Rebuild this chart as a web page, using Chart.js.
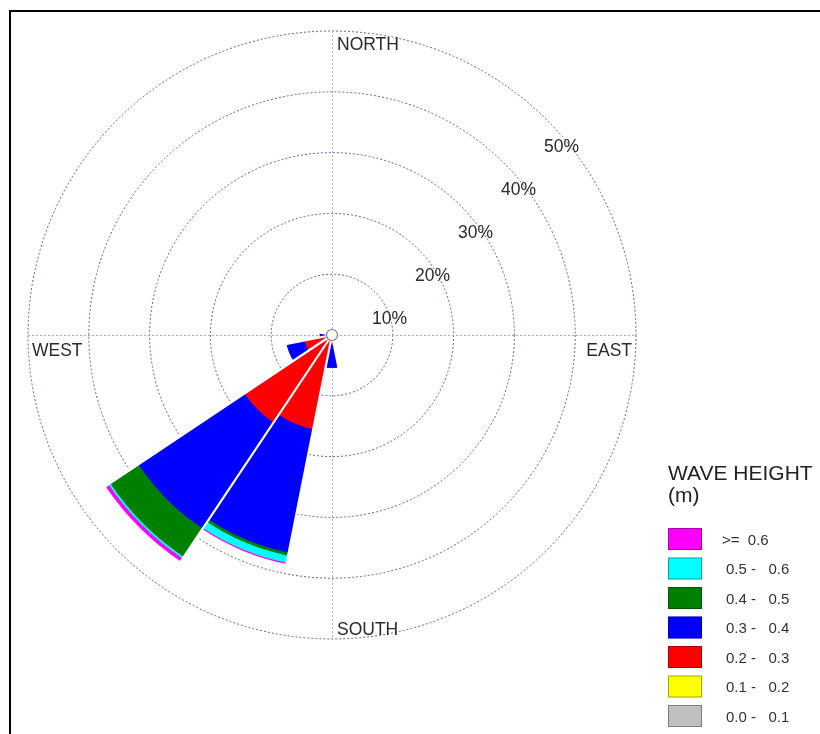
<!DOCTYPE html>
<html>
<head>
<meta charset="utf-8">
<script src="https://cdn.jsdelivr.net/npm/chart.js@4.4.1/dist/chart.umd.min.js"></script>
<style>
  html, body { margin: 0; padding: 0; background: #fff; }
  #wrap { position: relative; width: 820px; height: 734px; overflow: hidden; }
  #frame { position: absolute; left: 9px; top: 10px; width: 900px; height: 900px;
           border-left: 2px solid #000; border-top: 2px solid #000; }
  canvas { position: absolute; left: 0; top: 0; }
</style>
</head>
<body>
<div id="wrap">
  <div id="frame"></div>
  <canvas id="rose" width="820" height="734"></canvas>
</div>
<script>
// 16 compass sectors, clockwise from north
const directions = ['N', 'NNE', 'NE', 'ENE', 'E', 'ESE', 'SE', 'SSE',
                    'S', 'SSW', 'SW', 'WSW', 'W', 'WNW', 'NW', 'NNW'];

// Frequency (% of records) for each wave-height class, per sector
const h00_01 = [0, 0, 0, 0, 0, 0, 0, 0, 0,   0,    0,    0,   0,   0, 0, 0];
const h01_02 = [0, 0, 0, 0, 0, 0, 0, 0, 0,   0,    0,    0,   0,   0, 0, 0];
const h02_03 = [0, 0, 0, 0, 0, 0, 0, 0, 1.6, 15.8, 17.3, 4.6, 0.6, 0, 0, 0];
const h03_04 = [0, 0, 0, 0, 0, 0, 0, 0, 3.8, 20.7, 21.0, 3.0, 1.4, 0, 0, 0];
const h04_05 = [0, 0, 0, 0, 0, 0, 0, 0, 0,   0.5,  5.6,  0,   0,   0, 0, 0];
const h05_06 = [0, 0, 0, 0, 0, 0, 0, 0, 0,   1.2,  0.3,  0,   0,   0, 0, 0];
const h06_up = [0, 0, 0, 0, 0, 0, 0, 0, 0,   0.2,  0.6,  0,   0,   0, 0, 0];

const classLabels = ['0.0 -   0.1', '0.1 -   0.2', '0.2 -   0.3', '0.3 -   0.4',
                     '0.4 -   0.5', '0.5 -   0.6', '>=  0.6'];
const classColors = ['#c0c0c0', '#ffff00', '#ff0000', '#0000ff',
                     '#008000', '#00ffff', '#ff00ff'];

const ringTicks = [10, 20, 30, 40, 50];
const legendTitle = ['WAVE HEIGHT', '(m)'];
const compass = { north: 'NORTH', east: 'EAST', south: 'SOUTH', west: 'WEST' };

// Stack the classes outward: each dataset holds the running total up to its class.
const bands = [h00_01, h01_02, h02_03, h03_04, h04_05, h05_06, h06_up];
const cumulative = bands.map((_, k) =>
  directions.map((_, i) => bands.slice(0, k + 1).reduce((s, b) => s + b[i], 0)));
const totals = cumulative[cumulative.length - 1];

const FONT = '"Liberation Sans", Arial, sans-serif';
const SECTOR = 360 / directions.length;
const START = -SECTOR / 2;

function polar(scale, deg, r) {
  const a = (deg - 90) * Math.PI / 180;
  return [scale.xCenter + r * Math.cos(a), scale.yCenter + r * Math.sin(a)];
}

// Dotted N-S / E-W cross lines beneath the petals
const crossLines = {
  id: 'crossLines',
  beforeDatasetsDraw(chart) {
    const s = chart.scales.r, ctx = chart.ctx;
    const R = s.getDistanceFromCenterForValue(s.max);
    ctx.save();
    ctx.strokeStyle = '#a4a9d0';
    ctx.lineWidth = 1;
    ctx.setLineDash([2, 2]);
    ctx.beginPath();
    ctx.moveTo(s.xCenter - R, s.yCenter + 0.5); ctx.lineTo(s.xCenter + R, s.yCenter + 0.5);
    ctx.moveTo(s.xCenter + 0.5, s.yCenter - R); ctx.lineTo(s.xCenter + 0.5, s.yCenter + R);
    ctx.stroke();
    ctx.restore();
  }
};

// Thin white separators between neighbouring petals and the calm circle in the middle
const petalTrim = {
  id: 'petalTrim',
  afterDatasetsDraw(chart) {
    const s = chart.scales.r, ctx = chart.ctx;
    ctx.save();
    ctx.strokeStyle = '#ffffff';
    ctx.lineWidth = 2.2;
    for (let b = 0; b < directions.length; b++) {
      const prev = totals[(b + directions.length - 1) % directions.length];
      const v = Math.max(prev, totals[b]);
      if (v <= 0) continue;
      const r = s.getDistanceFromCenterForValue(v) + 1;
      const [x, y] = polar(s, START + b * SECTOR, r);
      ctx.beginPath();
      ctx.moveTo(s.xCenter, s.yCenter);
      ctx.lineTo(x, y);
      ctx.stroke();
    }
    ctx.beginPath();
    ctx.arc(s.xCenter, s.yCenter, 5.5, 0, Math.PI * 2);
    ctx.fillStyle = '#ffffff';
    ctx.fill();
    ctx.lineWidth = 1.2;
    ctx.strokeStyle = '#7a7a7a';
    ctx.stroke();
    ctx.restore();
  }
};

// Ring percentages, compass words and the wave-height key
const annotations = {
  id: 'annotations',
  afterDraw(chart) {
    const s = chart.scales.r, ctx = chart.ctx;
    const cx = s.xCenter, cy = s.yCenter;
    const R = s.getDistanceFromCenterForValue(s.max);
    ctx.save();
    ctx.fillStyle = '#2b2b2b';
    ctx.font = '17.5px ' + FONT;
    ctx.textBaseline = 'alphabetic';

    ringTicks.forEach(v => {
      const r = s.getDistanceFromCenterForValue(v) * Math.SQRT1_2;
      ctx.textAlign = 'right';
      ctx.fillText(v + '%', cx + r + 32, cy - r + 32);
    });

    ctx.textAlign = 'left';
    ctx.fillText(compass.north, cx + 5, cy - R + 19);
    ctx.fillText(compass.south, cx + 5, cy + R - 4);
    ctx.fillText(compass.west, cx - R + 4, cy + 21);
    ctx.textAlign = 'right';
    ctx.fillText(compass.east, cx + R - 4, cy + 21);

    // key
    const kx = 668, ky = 528, step = 29.5, bw = 34, bh = 22;
    ctx.textAlign = 'left';
    ctx.fillStyle = '#222';
    ctx.font = '21px ' + FONT;
    ctx.fillText(legendTitle[0], kx, 480);
    ctx.fillText(legendTitle[1], kx, 502);
    ctx.font = '15px ' + FONT;
    for (let k = classColors.length - 1, row = 0; k >= 0; k--, row++) {
      const y = ky + row * step;
      ctx.fillStyle = classColors[k];
      ctx.fillRect(kx, y, bw, bh);
      ctx.strokeStyle = 'rgba(0,0,0,0.35)';
      ctx.lineWidth = 1;
      ctx.strokeRect(kx + 0.5, y + 0.5, bw - 1, bh - 1);
      ctx.fillStyle = '#333';
      ctx.fillText(classLabels[k], k === classColors.length - 1 ? kx + 54 : kx + 58, y + bh / 2 + 5.5);
    }
    ctx.restore();
  }
};

new Chart(document.getElementById('rose'), {
  type: 'polarArea',
  data: {
    labels: directions,
    datasets: cumulative.map((data, k) => ({
      label: classLabels[k],
      data,
      backgroundColor: classColors[k],
      borderWidth: 0
    }))
  },
  options: {
    responsive: false,
    animation: false,
    layout: { padding: { left: 28, top: 31, right: 184, bottom: 95 } },
    plugins: { legend: { display: false }, tooltip: { enabled: false } },
    scales: {
      r: {
        min: 0,
        max: 50,
        startAngle: START,
        ticks: { display: false, stepSize: 10 },
        grid: { circular: true, color: '#5e5e9e', lineWidth: 1 },
        border: { dash: [2, 2] },
        angleLines: { display: false },
        pointLabels: { display: false }
      }
    }
  },
  plugins: [crossLines, petalTrim, annotations]
});
</script>
</body>
</html>
